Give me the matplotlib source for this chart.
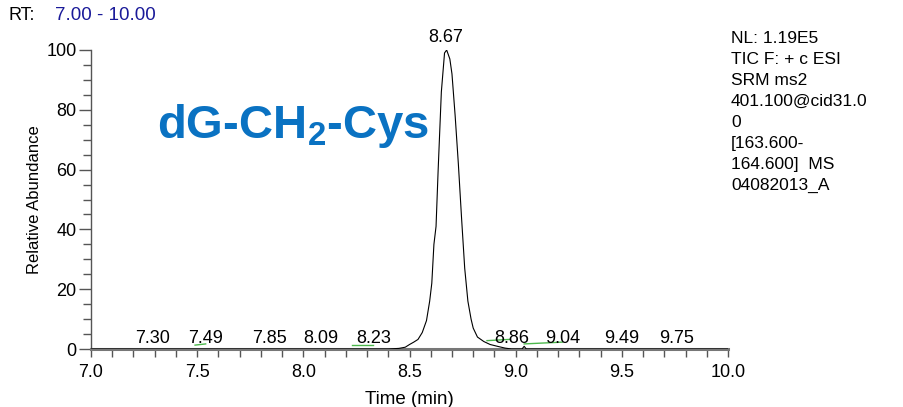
import matplotlib
matplotlib.use('Agg')
from matplotlib import pyplot as plt
from matplotlib.ticker import MultipleLocator, FormatStrFormatter

plt.rcParams['font.family'] = ['Liberation Sans', 'DejaVu Sans']
plt.rcParams['mathtext.fontset'] = 'custom'
plt.rcParams['mathtext.rm'] = 'Liberation Sans:bold'
plt.rcParams['mathtext.default'] = 'rm'

# chromatogram trace (time in min, relative abundance)
times = [7.00, 7.50, 8.00, 8.40, 8.45, 8.48, 8.50, 8.52, 8.54, 8.56, 8.58, 8.595,
         8.605, 8.615, 8.625, 8.635, 8.65, 8.665, 8.675, 8.69, 8.70, 8.715, 8.73,
         8.745, 8.76, 8.775, 8.79, 8.80, 8.82, 8.85, 8.88, 8.92, 8.95, 8.98, 9.03,
         9.04, 9.05, 9.10, 9.50, 10.00]
abundance = [0.0, 0.0, 0.0, 0.0, 0.2, 0.6, 1.5, 2.3, 3.2, 5.5, 9.5, 16.0,
             22.0, 35.0, 41.0, 60.0, 86.0, 99.0, 100.0, 97.0, 92.0, 78.0, 62.0,
             44.0, 27.0, 16.0, 10.0, 7.0, 4.0, 2.5, 1.5, 0.8, 0.3, 0.0, 0.0,
             0.9, 0.0, 0.0, 0.0, 0.0]

# labelled peaks: text, label x position, label height
peak_text = ['7.30', '7.49', '7.85', '8.09', '8.23', '8.86', '9.04', '9.49', '9.75']
peak_label_x = [7.29, 7.54, 7.84, 8.08, 8.33, 8.98, 9.22, 9.50, 9.76]
peak_label_y = 2.0

# short green integration baselines (start, end, y0, y1)
base_t0 = [7.49, 8.23, 8.865, 9.04]
base_t1 = [7.54, 8.33, 8.97, 9.22]
base_y0 = [1.3, 1.5, 2.8, 1.7]
base_y1 = [1.7, 1.5, 3.2, 2.3]

apex_time = 8.67
apex_label = '8.67'

info_lines = ['NL: 1.19E5', 'TIC F: + c ESI', 'SRM ms2', '401.100@cid31.0', '0',
              '[163.600-', '164.600]  MS', '04082013_A']

fig = plt.figure(figsize=(9.04, 4.07), dpi=100)
ax = fig.add_axes([91 / 904, 58 / 407, 637 / 904, 299 / 407])

ax.plot(times, abundance, color='black', lw=0.8, zorder=3)
for t0, t1, y0, y1 in zip(base_t0, base_t1, base_y0, base_y1):
    ax.plot([t0, t1], [y0, y1], color='#4cb84c', lw=1.0)
for txt, x in zip(peak_text, peak_label_x):
    ax.text(x, peak_label_y, txt, ha='center', va='baseline', fontsize=13)
ax.text(apex_time, 101.5, apex_label, ha='center', va='bottom', fontsize=13, clip_on=False)

ax.set_xlim(7.0, 10.0)
ax.set_ylim(0, 100)
ax.xaxis.set_major_locator(MultipleLocator(0.5))
ax.xaxis.set_minor_locator(MultipleLocator(0.1))
ax.yaxis.set_major_locator(MultipleLocator(20))
ax.yaxis.set_minor_locator(MultipleLocator(5))
ax.xaxis.set_major_formatter(FormatStrFormatter('%.1f'))

for s in ['top', 'right']:
    ax.spines[s].set_visible(False)
ax.spines['bottom'].set_color('#777777')
ax.spines['bottom'].set_linewidth(2.2)
ax.spines['left'].set_color('#555555')
ax.spines['left'].set_linewidth(1.0)

ax.tick_params(axis='x', which='both', length=6, width=1, color='#555555',
               labelsize=13, pad=5)
ax.tick_params(axis='y', which='major', length=9, width=1, color='#555555',
               labelsize=13, pad=1.5)
ax.tick_params(axis='y', which='minor', length=6, width=1, color='#555555')

ax.set_xlabel('Time (min)', fontsize=13.5, labelpad=7)
ax.set_ylabel('Relative Abundance', fontsize=12, labelpad=3)

fig.text(8 / 904, 1 - 15 / 407, 'RT:', fontsize=13, va='center', ha='left')
fig.text(55 / 904, 1 - 15 / 407, '7.00 - 10.00', fontsize=13.5, va='center', ha='left',
         color='#1a1a99')

fig.text(157 / 904, 1 - 126 / 407, 'dG-CH$_2$-Cys', fontsize=34, fontweight='bold',
         color='#0a72c2', va='center', ha='left')

fig.text(731 / 904, 1 - 31 / 407, '\n'.join(info_lines), fontsize=12.5, va='top',
         ha='left', linespacing=1.5)

fig.savefig('out.png', dpi=100)
